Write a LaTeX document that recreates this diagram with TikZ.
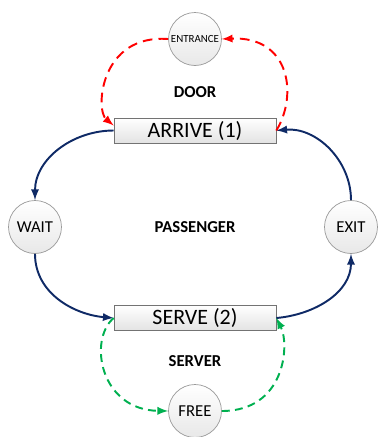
\documentclass[tikz,border=0pt]{standalone}
\usepackage{fontspec}
\setmainfont{Carlito}
\usepackage{tikz}
\usetikzlibrary{arrows,calc,positioning,shapes}
\definecolor{navy}{HTML}{0F2A66}
\definecolor{doorred}{HTML}{FF0000}
\definecolor{servgreen}{HTML}{00B050}
\tikzset{%
	statecirc/.style = {draw=gray!80, circle, minimum size=1.06cm, inner sep=0pt, top color=white, bottom color=gray!18, text centered},
	eventbox/.style  = {draw=gray!90!black, rectangle, minimum width=3.24cm, minimum height=0.5cm, inner sep=0pt, top color=white, bottom color=gray!22, text centered, font=\fontsize{12.5}{14}\selectfont},
	flow/.style      = {navy, line width=1.1pt, -latex, >=stealth},
	doorflow/.style  = {doorred, line width=1.1pt, dash pattern=on 5.5pt off 3.5pt, -latex},
	servflow/.style  = {servgreen, line width=1.1pt, dash pattern=on 4.5pt off 3pt, -latex},
	zone/.style      = {font=\fontsize{9.5}{11}\selectfont\bfseries},
}
\begin{document}
\begin{tikzpicture}[x=0.02cm,y=-0.02cm]
		\useasboundingbox (0,0) rectangle (378,437);
		% states
		\node[statecirc, font=\fontsize{6.2}{7}\selectfont] (entrance) at (195,39) {ENTRANCE};
		\node[statecirc, font=\fontsize{9.5}{11}\selectfont] (wait) at (35,227) {WAIT};
		\node[statecirc, font=\fontsize{9.5}{11}\selectfont] (exit) at (351,227) {EXIT};
		\node[statecirc, font=\fontsize{9.5}{11}\selectfont] (free) at (195,411) {FREE};
		% events
		\node[eventbox] (arrive) at (195,130.5) {ARRIVE (1)};
		\node[eventbox] (serve) at (195,318) {SERVE (2)};
		% labels
		\node[zone] (door) at (195,92) {DOOR};
		\node[zone] (passenger) at (195,227) {PASSENGER};
		\node[zone] (server) at (195,361) {SERVER};
		% passenger cycle
		\draw[flow] (arrive.west) to[out=180,in=90] (wait.north);
		\draw[flow] (wait.south) to[out=-90,in=175] (serve.west);
		\draw[flow] (serve.east) to[out=5,in=-90] (exit.south);
		\draw[flow] (exit.north) to[out=90,in=5] (arrive.east);
		% door cycle
		\draw[doorflow] (entrance.west) .. controls (100,34) and (95,110) .. ($(arrive.west)+(0,-5)$);
		\draw[doorflow] (arrive.east) .. controls (298,95) and (290,36) .. (entrance.east);
		% server cycle
		\draw[servflow] (serve.west) .. controls (88,340) and (100,410) .. (free.west);
		\draw[servflow] (free.east) .. controls (285,411) and (290,345) .. (serve.east);
	\end{tikzpicture}
\end{document}
